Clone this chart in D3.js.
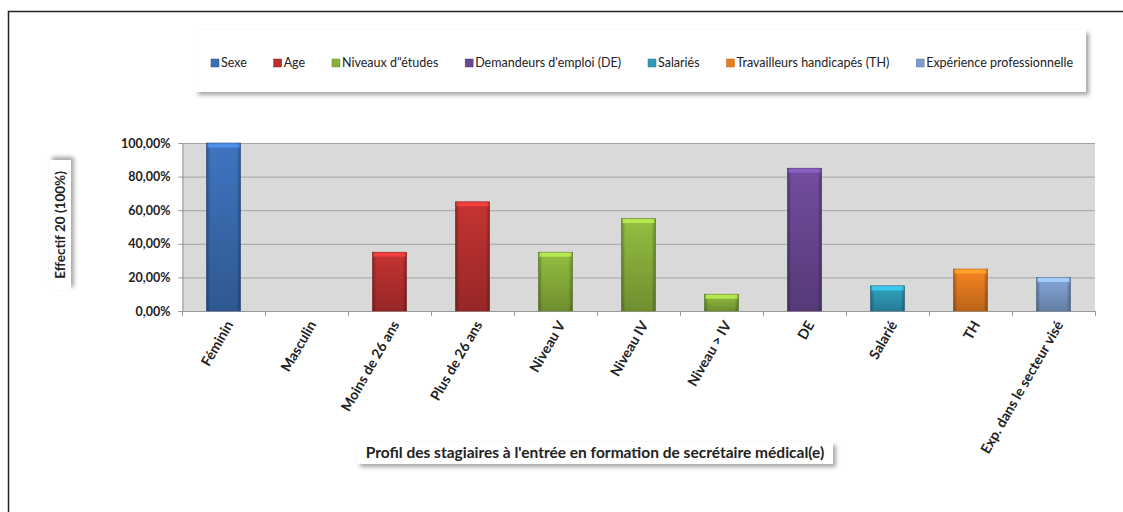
<!DOCTYPE html>
<html>
<head>
<meta charset="utf-8">
<script src="https://cdn.jsdelivr.net/npm/d3@7"></script>
<style>
  body { margin: 0; background: #fff; }
  svg { display: block; font-family: Lato, "Open Sans", sans-serif; }
</style>
</head>
<body>
<svg id="chart" width="1123" height="512"></svg>
<script>
const categories = ["Féminin", "Masculin", "Moins de 26 ans", "Plus de 26 ans", "Niveau V", "Niveau IV",
  "Niveau  > IV", "DE", "Salarié", "TH", "Exp. dans le secteur visé"];
const values = [1.00, 0.00, 0.35, 0.65, 0.35, 0.55, 0.10, 0.85, 0.15, 0.25, 0.20];
const groupOf = [0, 0, 1, 1, 2, 2, 2, 3, 4, 5, 6];
const groups = ["Sexe", "Age", "Niveaux d\"études", "Demandeurs d'emploi (DE)", "Salariés",
  "Travailleurs handicapés (TH)", "Expérience professionnelle"];
const groupColors = ["#3a6db4", "#b8302f", "#8ab13c", "#6a4893", "#2f9ab6", "#e67c1e", "#7c9ccb"];
const yTicks = [0, 0.2, 0.4, 0.6, 0.8, 1.0];
const yTitle = "Effectif  20 (100%)";
const xTitle = "Profil des stagiaires à l'entrée en formation de secrétaire médical(e)";

const rows = categories.map((c, i) => ({ name: c, value: values[i], group: groupOf[i] }));

const svg = d3.select("#chart");
const defs = svg.append("defs");

const fr = d3.formatLocale({ decimal: ",", thousands: " ", grouping: [3], currency: ["", " €"] });
const pct = fr.format(".2%");

// shadow for the boxes
const sh = defs.append("filter").attr("id", "shadow").attr("x", "-10%").attr("y", "-30%")
  .attr("width", "130%").attr("height", "180%");
sh.append("feDropShadow").attr("dx", 3).attr("dy", 3).attr("stdDeviation", 2)
  .attr("flood-color", "#000").attr("flood-opacity", 0.35);

// bar gradients, one per group
groupColors.forEach((c, i) => {
  const g = defs.append("linearGradient").attr("id", "grad" + i).attr("x1", 0).attr("x2", 0).attr("y1", 0).attr("y2", 1);
  g.append("stop").attr("offset", "0%").attr("stop-color", d3.color(c).brighter(0.2));
  g.append("stop").attr("offset", "100%").attr("stop-color", d3.color(c).darker(0.6));
});
const side = defs.append("linearGradient").attr("id", "side");
[[0, 0.28], [0.12, 0], [0.88, 0], [1, 0.28]].forEach(([o, a]) =>
  side.append("stop").attr("offset", o).attr("stop-color", "#000").attr("stop-opacity", a));

// outer frame
svg.append("rect").attr("x", 8.5).attr("y", 11.5).attr("width", 1130).attr("height", 520)
  .attr("fill", "none").attr("stroke", "#222").attr("stroke-width", 1.5);

const x = d3.scaleBand().domain(categories).range([182, 1095]).paddingInner(0.59).paddingOuter(0.295);
const y = d3.scaleLinear().domain([0, 1]).range([311, 143]);

// plot area
svg.append("rect").attr("x", 182).attr("y", y(1)).attr("width", 1095 - 182).attr("height", y(0) - y(1))
  .attr("fill", "#d9d9d9");

svg.append("g").selectAll("line").data(yTicks.slice(1)).join("line")
  .attr("x1", 182).attr("x2", 1095).attr("y1", d => y(d) + 0.5).attr("y2", d => y(d) + 0.5)
  .attr("stroke", "#a3a3a3").attr("stroke-width", 1);

// y axis
const yAxis = svg.append("g").attr("transform", "translate(182.5,0)")
  .call(d3.axisLeft(y).tickValues(yTicks).tickFormat(pct).tickSize(4).tickPadding(8));
yAxis.select(".domain").attr("stroke", "#999");
yAxis.selectAll(".tick line").attr("stroke", "#999");
yAxis.selectAll("text").attr("font-size", 12.5).attr("font-weight", "bold").attr("fill", "#222")
  .attr("font-family", "Lato, sans-serif");

// x axis
const bounds = categories.map(c => x(c) - x.step() * x.paddingInner() / 2).concat([1095]);
svg.append("g").selectAll("line").data(bounds).join("line")
  .attr("x1", d => Math.round(d) + 0.5).attr("x2", d => Math.round(d) + 0.5)
  .attr("y1", y(0)).attr("y2", y(0) + 5).attr("stroke", "#999");
svg.append("line").attr("x1", 182).attr("x2", 1095).attr("y1", y(0) + 0.5).attr("y2", y(0) + 0.5)
  .attr("stroke", "#999");

svg.append("g").selectAll("text").data(categories).join("text")
  .attr("transform", d => `translate(${x(d) + x.bandwidth() / 2 + 6},${y(0) + 11}) rotate(-60)`)
  .attr("text-anchor", "end").attr("dy", "0.35em")
  .attr("font-size", 14).attr("font-weight", "bold").attr("fill", "#222")
  .text(d => d);

// bars
const bars = svg.append("g").selectAll("g").data(rows).join("g");
bars.append("rect")
  .attr("x", d => x(d.name)).attr("width", x.bandwidth())
  .attr("y", d => y(d.value)).attr("height", d => y(0) - y(d.value))
  .attr("fill", d => `url(#grad${d.group})`)
  .attr("stroke", d => d3.color(groupColors[d.group]).darker(0.8)).attr("stroke-width", 0.6);
bars.append("rect")
  .attr("x", d => x(d.name)).attr("width", x.bandwidth())
  .attr("y", d => y(d.value)).attr("height", d => y(0) - y(d.value))
  .attr("fill", "url(#side)");
bars.filter(d => d.value > 0).append("rect")
  .attr("x", d => x(d.name) + 1).attr("width", x.bandwidth() - 2)
  .attr("y", d => y(d.value) + 0.5).attr("height", 4)
  .attr("fill", d => d3.color(groupColors[d.group]).brighter(0.9)).attr("opacity", 0.8);

// legend
const lg = svg.append("g");
lg.append("rect").attr("x", 195).attr("y", 30).attr("width", 891).attr("height", 62)
  .attr("fill", "#fff").attr("filter", "url(#shadow)");
const items = lg.selectAll("g.item").data(groups).join("g").attr("class", "item");
items.append("rect").attr("width", 8).attr("height", 8).attr("y", -8)
  .attr("fill", (d, i) => groupColors[i]).attr("stroke", (d, i) => d3.color(groupColors[i]).darker(0.6)).attr("stroke-width", 0.5);
items.append("text").attr("x", 10).attr("font-size", 12.5).attr("fill", "#222").text(d => d);
const widths = [];
items.each(function () { widths.push(10 + d3.select(this).select("text").node().getComputedTextLength()); });
const gap = (1073 - 211 - d3.sum(widths)) / (groups.length - 1);
let cx = 211;
items.attr("transform", (d, i) => { const t = `translate(${cx},67)`; cx += widths[i] + gap; return t; });

// y title box
const yt = svg.append("g").attr("transform", "translate(60,225) rotate(-90)");
yt.append("rect").attr("x", -65).attr("y", -11).attr("width", 130).attr("height", 22)
  .attr("fill", "#fff").attr("filter", "url(#shadow)");
yt.append("text").attr("text-anchor", "middle").attr("dy", "0.35em")
  .attr("font-size", 13.5).attr("font-weight", "bold").attr("fill", "#222").text(yTitle);

// x title box
const xt = svg.append("g").attr("transform", "translate(595,453)");
xt.append("rect").attr("x", -238).attr("y", -11).attr("width", 476).attr("height", 22)
  .attr("fill", "#fff").attr("filter", "url(#shadow)");
xt.append("text").attr("text-anchor", "middle").attr("dy", "0.35em")
  .attr("font-size", 15.5).attr("font-weight", "bold").attr("fill", "#222").text(xTitle);
</script>
</body>
</html>
